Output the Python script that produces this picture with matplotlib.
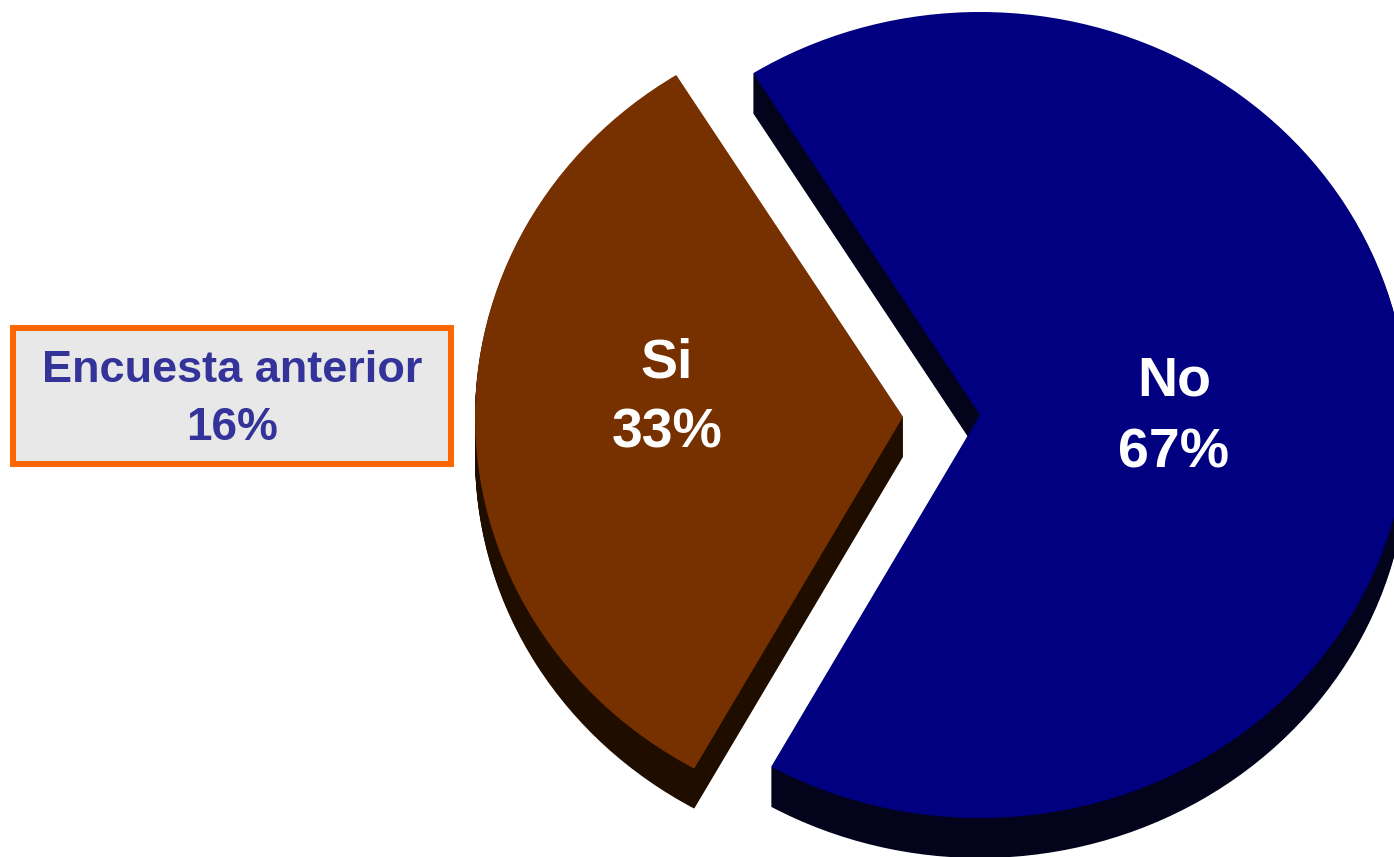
import matplotlib
matplotlib.use("Agg")
import matplotlib.pyplot as plt
from matplotlib.patches import FancyBboxPatch

plt.rcParams['font.family'] = ['Liberation Sans', 'DejaVu Sans']

categories = ['Si', 'No']
values = [33, 67]
previous_label = 'Encuesta anterior'
previous_value = 16

top_colors = ['#773100', '#000080']
side_colors = ['#1f0d00', '#03031c']

W, H = 1394, 857
fig = plt.figure(figsize=(W / 100, H / 100), dpi=100)
ax = fig.add_axes([0, 0, 1, 1])

# pie geometry (pixel-based)
cx, cy = 980, 415
rx, ry = 428, 403
depth_px = 40
explode = [77 / rx, 0]
start = 122

# extruded side: stack of shifted pies
for k in range(depth_px, 0, -1):
    ax.pie(values, colors=side_colors, startangle=start, counterclock=True,
           explode=explode, center=(0, -k / ry), radius=1,
           wedgeprops=dict(linewidth=0), frame=True)
ax.pie(values, colors=top_colors, startangle=start, counterclock=True,
       explode=explode, center=(0, 0), radius=1,
       wedgeprops=dict(linewidth=0), frame=True)

ax.set_xlim(-cx / rx, (W - cx) / rx)
ax.set_ylim((cy - H) / ry, cy / ry)
ax.set_aspect('auto')
ax.axis('off')

def px(x, y):
    return x / W, 1 - y / H

# slice labels
for cat, val, (lx, ly1, ly2) in zip(categories, values,
                                    [(667, 377, 448), (1174, 395, 467)]):
    fig.text(*px(lx, ly1), cat, ha='center', va='baseline',
             fontsize=40, fontweight='bold', color='white')
    fig.text(*px(lx, ly2), f'{val}%', ha='center', va='baseline',
             fontsize=40, fontweight='bold', color='white')

# previous survey box
x0, y0, x1, y1 = 13, 328, 451, 464
box = FancyBboxPatch(px(x0, y1), (x1 - x0) / W, (y1 - y0) / H,
                     boxstyle='square,pad=0', transform=fig.transFigure,
                     facecolor='#e8e8e8', edgecolor='#ff6600', linewidth=4.3)
fig.patches.append(box)
fig.text(*px(232, 382), previous_label, ha='center', va='baseline',
         fontsize=32.5, fontweight='bold', color='#333399')
fig.text(*px(232, 440), f'{previous_value}%', ha='center', va='baseline',
         fontsize=33, fontweight='bold', color='#333399')

fig.savefig('out.png', dpi=100, facecolor='white')
